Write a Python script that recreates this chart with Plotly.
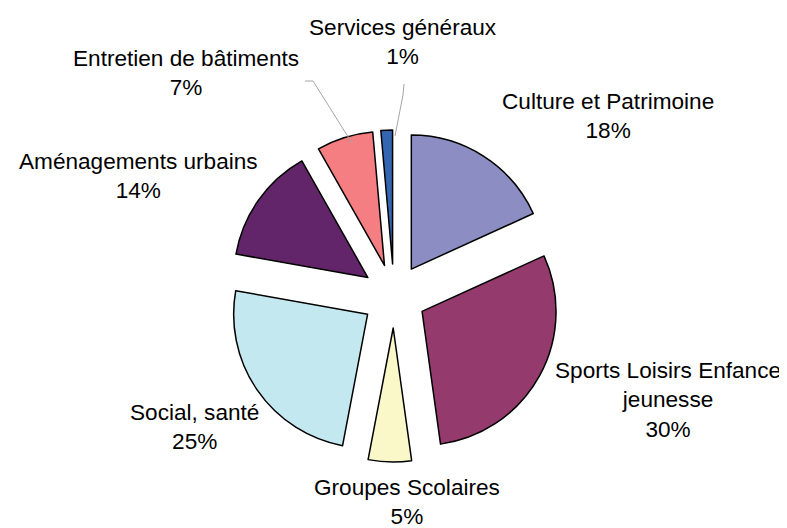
import plotly.graph_objects as go

# Data (clockwise from 12 o'clock)
categories = ["Culture et Patrimoine", "Sports Loisirs Enfance jeunesse", "Groupes Scolaires",
              "Social, santé", "Aménagements urbains", "Entretien de bâtiments", "Services généraux"]
display_labels = ["Culture et Patrimoine", "Sports Loisirs Enfance<br>jeunesse", "Groupes Scolaires",
                  "Social, santé", "Aménagements urbains", "Entretien de bâtiments", "Services généraux"]
values = [18.2, 29.6, 5.2, 24.8, 14.0, 6.8, 1.4]
colors = ["#8B8DC3", "#943A6C", "#FAF8C8", "#C4E8EF", "#622569", "#F47E82", "#3465B0"]

W, H = 787, 528
FONT = "Liberation Sans, Arial, sans-serif"

fig = go.Figure(go.Pie(
    labels=categories,
    values=values,
    sort=False,
    direction="clockwise",
    rotation=0,
    pull=[0.239] * len(values),
    marker=dict(colors=colors, line=dict(color="#000000", width=1.5)),
    textinfo="none",
    hoverinfo="label+percent",
    showlegend=False,
    domain=dict(x=[220 / W, 552 / W], y=[74 / H, 406 / H]),
))

# label block centres (pixels)
label_pos = [(600, 108), (660, 392), (399, 494), (186, 419), (130, 168), (178, 65), (395, 34)]
total = sum(values)
annotations = []
for lab, v, (px, py) in zip(display_labels, values, label_pos):
    annotations.append(dict(
        text=f"{lab}<br>{round(v / total * 100)}%",
        x=px / W, y=1 - py / H, xref="paper", yref="paper",
        xanchor="center", yanchor="middle", showarrow=False, align="center",
        font=dict(family=FONT, size=22.6, color="#000000"),
    ))

def path(points):
    s = "M " + " L ".join(f"{x / W},{1 - y / H}" for x, y in points)
    return s

shapes = [
    dict(type="path", xref="paper", yref="paper",
         path=path([(297, 73), (305, 73), (344, 135)]),
         line=dict(color="#A6A6A6", width=1)),
    dict(type="path", xref="paper", yref="paper",
         path=path([(396, 76), (395, 87), (387, 128)]),
         line=dict(color="#A6A6A6", width=1)),
]

fig.update_layout(
    width=W, height=H,
    margin=dict(l=0, r=0, t=0, b=0),
    paper_bgcolor="#FFFFFF", plot_bgcolor="#FFFFFF",
    annotations=annotations, shapes=shapes,
    font=dict(family=FONT),
)

fig.write_html("out.html")
